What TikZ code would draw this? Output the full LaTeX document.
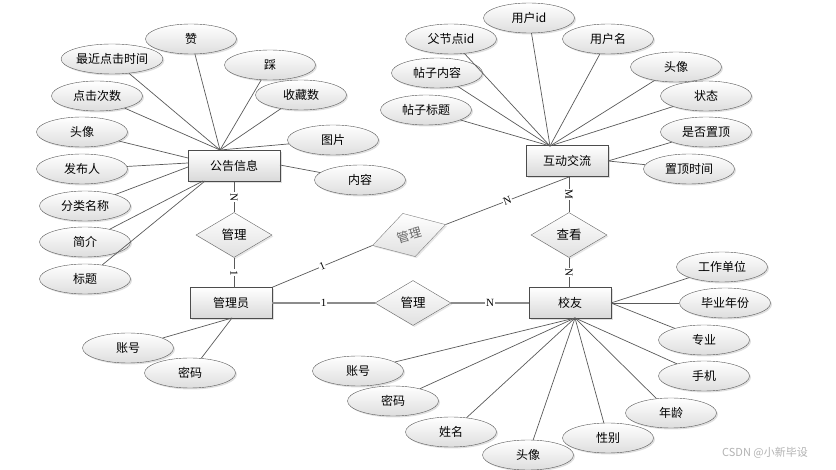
\documentclass[tikz,border=0pt]{standalone}
\usepackage{fontspec}
\setmainfont{Noto Sans CJK SC}
\newfontfamily\lblfont{Liberation Serif}
\usetikzlibrary{shapes.geometric,shadows}
\tikzset{
  attr/.style={ellipse, draw=black!65, top color=white, bottom color=black!13,
    minimum width=91pt, minimum height=30pt, inner sep=0pt,
    font=\fontsize{12}{12}\selectfont,
    drop shadow={shadow xshift=1.5pt, shadow yshift=-1.5pt, opacity=0.25}},
  ent/.style={rectangle, draw=black!70, top color=white, bottom color=black!15,
    minimum height=31pt, inner sep=0pt,
    font=\fontsize{12}{12}\selectfont,
    drop shadow={shadow xshift=1.5pt, shadow yshift=-1.5pt, opacity=0.25}},
  rel/.style={diamond, draw=black!60, top color=white, bottom color=black!12,
    minimum width=76pt, minimum height=45pt, inner sep=0pt, aspect=1.7,
    font=\fontsize{12.5}{12.5}\selectfont,
    drop shadow={shadow xshift=1.5pt, shadow yshift=-1.5pt, opacity=0.2}},
  conn/.style={draw=black!65, line width=0.7pt},
  thick conn/.style={draw=black!45, line width=1.4pt},
  card/.style={font=\lblfont\fontsize{11}{11}\selectfont, fill=white, inner sep=0.6pt, sloped},
  mark text/.style={text=black!30, font=\fontsize{11}{11}\selectfont}
}
\begin{document}
\begin{tikzpicture}[x=1pt,y=-1pt]
\useasboundingbox (0,0) rectangle (836,470);

% ---------- entities ----------
\node[ent, minimum width=92pt] (gg) at (234,166) {公告信息};
\node[ent, minimum width=82pt] (hd) at (567,161) {互动交流};
\node[ent, minimum width=82pt] (gly) at (231,303) {管理员};
\node[ent, minimum width=82pt] (xy) at (570,303) {校友};

% ---------- relations ----------
\node[rel] (r1) at (234,235) {管理};
\node[rel] (r2) at (569,235) {查看};
\node[rel, rotate=16, text=black!60, draw=black!50] (r3) at (409,235) {管理};
\node[rel] (r4) at (413,303) {管理};

% ---------- attributes of 公告信息 ----------
\node[attr] (g1) at (191,39) {赞};
\node[attr] (g2) at (112,59) {最近点击时间};
\node[attr] (g3) at (270,65) {踩};
\node[attr] (g4) at (97,96) {点击次数};
\node[attr] (g5) at (301,95) {收藏数};
\node[attr] (g6) at (82,132) {头像};
\node[attr] (g7) at (333,140) {图片};
\node[attr] (g8) at (82,169) {发布人};
\node[attr] (g9) at (360,180) {内容};
\node[attr] (g10) at (85,206) {分类名称};
\node[attr] (g11) at (85,242) {简介};
\node[attr] (g12) at (85,279) {标题};

% ---------- attributes of 互动交流 ----------
\node[attr] (h1) at (529,18) {用户id};
\node[attr] (h2) at (451,39) {父节点id};
\node[attr] (h3) at (608,39) {用户名};
\node[attr] (h4) at (437,73) {帖子内容};
\node[attr] (h5) at (676,67) {头像};
\node[attr] (h6) at (706,96) {状态};
\node[attr] (h7) at (426,110) {帖子标题};
\node[attr] (h8) at (706,132) {是否置顶};
\node[attr] (h9) at (689,169) {置顶时间};

% ---------- attributes of 管理员 ----------
\node[attr] (a1) at (128,348) {账号};
\node[attr] (a2) at (190,373) {密码};

% ---------- attributes of 校友 ----------
\node[attr] (x1) at (722,267) {工作单位};
\node[attr] (x2) at (725,303) {毕业年份};
\node[attr] (x3) at (704,340) {专业};
\node[attr] (x4) at (704,376) {手机};
\node[attr] (x5) at (671,413) {年龄};
\node[attr] (x6) at (608,438) {性别};
\node[attr] (x7) at (528,455) {头像};
\node[attr] (x8) at (451,432) {姓名};
\node[attr] (x9) at (393,401) {密码};
\node[attr] (x10) at (358,371) {账号};

% ---------- connection points ----------
\coordinate (gtop) at (220,150);
\coordinate (gl1) at (188,158);
\coordinate (gl2) at (188,163);
\coordinate (gl3) at (188,167);
\coordinate (gb1) at (203,181);
\coordinate (gb2) at (205,181);
\coordinate (gr) at (280,165);
\coordinate (htop) at (550,146);
\coordinate (hr) at (608,161);
\coordinate (hb) at (569,177);
\coordinate (glyt) at (234,288);
\coordinate (glyb) at (232,318);
\coordinate (xyt) at (569,288);
\coordinate (xyb) at (575,318);
\coordinate (xyr) at (611,303);

% ---------- attribute connectors ----------
\foreach \n in {g1,g2,g3,g4,g5,g7} \draw[conn] (gtop) -- (\n);
\draw[conn] (gl1) -- (g6);
\draw[conn] (gl2) -- (g8);
\draw[conn] (gl3) -- (g10);
\draw[conn] (gb1) -- (g11);
\draw[conn] (gb2) -- (g12);
\draw[conn] (gr) -- (g9);
\foreach \n in {h1,h2,h3,h4,h5,h6,h7} \draw[conn] (htop) -- (\n);
\draw[conn] (hr) -- (h8);
\draw[conn] (hr) -- (h9);
\draw[conn] (glyb) -- (a1);
\draw[conn] (glyb) -- (a2);
\foreach \n in {x1,x2,x3} \draw[conn] (xyr) -- (\n);
\foreach \n in {x4,x5,x6,x7,x8,x9,x10} \draw[conn] (xyb) -- (\n);

% ---------- relationship connectors ----------
\draw[conn] (gg.south) -- node[card] {N} (r1.north);
\draw[conn] (r1.south) -- node[card] {1} (glyt);
\draw[conn] (hb) -- node[card] {M} (r2.north);
\draw[conn] (r2.south) -- node[card] {N} (xyt);
\draw[conn] (gly.north east) -- node[card] {1} (r3.west);
\draw[conn] (r3.east) -- node[card] {N} (hb);
\draw[thick conn] (gly.east) -- node[card] {1} (r4.west);
\draw[thick conn] (r4.east) -- node[card] {N} (xy.west);

% ---------- watermark ----------
\node[mark text] (wm) at (765,453) {CSDN @小新毕设};
\end{tikzpicture}
\end{document}
